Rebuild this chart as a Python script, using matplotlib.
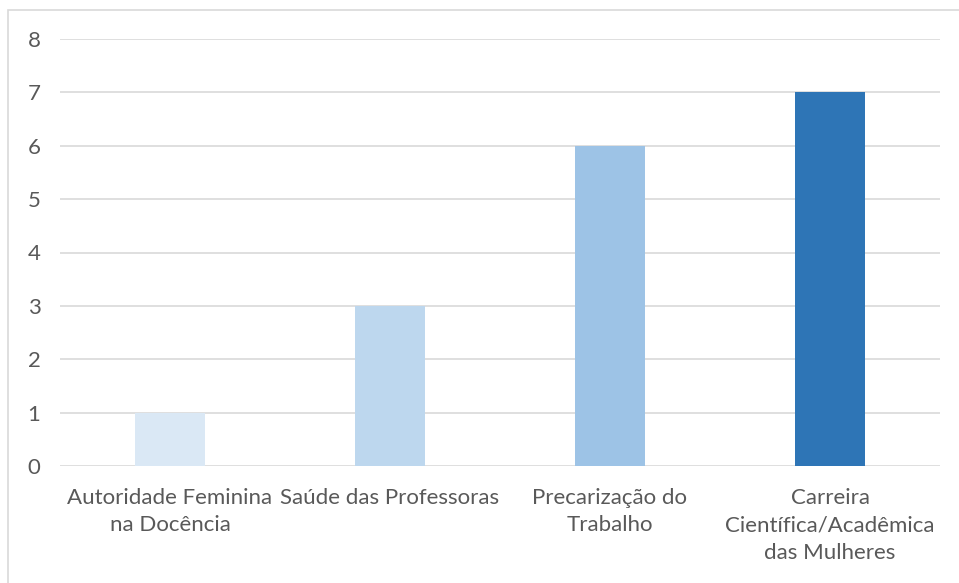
import matplotlib
matplotlib.use("Agg")
import matplotlib.pyplot as plt
from matplotlib.patches import Rectangle

categories = ["Autoridade Feminina\nna Docência", "Saúde das Professoras",
              "Precarização do\nTrabalho", "Carreira\nCientífica/Acadêmica\ndas Mulheres"]
values = [1, 3, 6, 7]
colors = ["#DAE8F5", "#BDD7EE", "#9DC3E6", "#2E75B6"]
yticks = [0, 1, 2, 3, 4, 5, 6, 7, 8]

plt.rcParams['font.family'] = ['Lato', 'DejaVu Sans']

fig = plt.figure(figsize=(9.59, 5.83), dpi=100)
ax = fig.add_axes([60/959, 1-466/583, 880/959, (466-39)/583])

x = list(range(len(categories)))
ax.bar(x, values, width=0.32, color=colors, zorder=3)
ax.set_xlim(-0.5, 3.5)
ax.set_ylim(0, 8)
ax.set_yticks(yticks)
ax.set_xticks(x)
ax.set_xticklabels(categories, linespacing=1.45)
ax.grid(axis='y', color='#D9D9D9', linewidth=1.2, zorder=0)
for s in ax.spines.values():
    s.set_visible(False)
ax.tick_params(axis='both', length=0, labelsize=16, colors='#595959')
ax.tick_params(axis='y', pad=14)
ax.tick_params(axis='x', pad=16)

fig.patches.append(Rectangle((8/959, -0.1), 1.0, 1-10/583+0.1, transform=fig.transFigure,
                             fill=False, edgecolor='#D9D9D9', linewidth=1.2))

fig.savefig("out.png", dpi=100)
